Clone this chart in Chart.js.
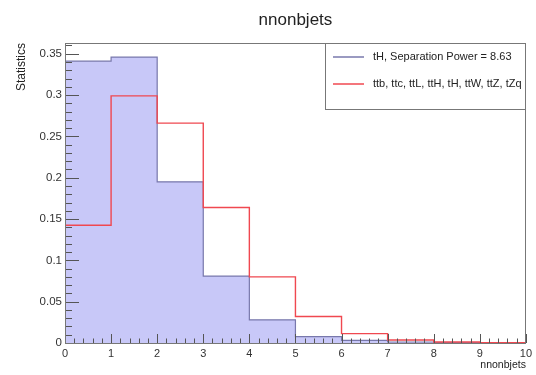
<!DOCTYPE html>
<html>
<head>
<meta charset="utf-8">
<script src="https://cdn.jsdelivr.net/npm/chart.js@4.4.1/dist/chart.umd.min.js"></script>
<style>
  html, body { margin: 0; padding: 0; background: #fff; }
  #wrap { width: 536px; height: 375px; }
</style>
</head>
<body>
<div id="wrap"><canvas id="histo" width="536" height="375"></canvas></div>
<script>
/* ─── Data ───────────────────────────────────────────────────── */
const TITLE      = 'nnonbjets';
const X_LABEL    = 'nnonbjets';
const Y_LABEL    = 'Statistics';
const binEdges   = [0, 1, 2, 3, 4, 5, 6, 7, 8, 9, 10];
const signalVals = [0.341, 0.346, 0.195, 0.081, 0.028, 0.0078, 0.0032, 0.0012, 0.0004, 0.0001];
const bkgVals    = [0.1425, 0.299, 0.266, 0.164, 0.080, 0.032, 0.0113, 0.0036, 0.0012, 0.0005];
const signalName = 'tH, Separation Power = 8.63';
const bkgName    = 'ttb, ttc, ttL, ttH, tH, ttW, ttZ, tZq';

const FONT = '"Liberation Sans", Arial, Helvetica, sans-serif';
const BLUE_FILL = '#c8c8f8';
const BLUE_LINE = '#7878ac';
const RED_LINE  = '#f04850';

// histogram outline: one point per bin edge, last edge repeats the last bin
function toSteps(vals) {
  return binEdges.map((x, i) => ({ x, y: vals[Math.min(i, vals.length - 1)] }));
}

/* ─── ROOT-like frame, ticks, legend, titles ─────────────────── */
const rootStyle = {
  id: 'rootStyle',
  afterDatasetsDraw(chart) {
    const { ctx, chartArea: a, scales: { x, y } } = chart;
    ctx.save();
    ctx.strokeStyle = '#555';
    ctx.lineWidth = 1;

    // y ticks (major every 0.05, minor every 0.01)
    for (let i = 0; i <= 36; i++) {
      const py = Math.round(y.getPixelForValue(i / 100)) + 0.5;
      if (py < a.top) break;
      const len = i % 5 === 0 ? 14 : 7;
      ctx.beginPath();
      ctx.moveTo(a.left, py);
      ctx.lineTo(a.left + len, py);
      ctx.stroke();
    }
    // x ticks (major every 1, minor every 0.2)
    for (let i = 0; i <= 50; i++) {
      const px = Math.round(x.getPixelForValue(i / 5)) + 0.5;
      const len = i % 5 === 0 ? 9 : 4.5;
      ctx.beginPath();
      ctx.moveTo(px, a.bottom);
      ctx.lineTo(px, a.bottom - len);
      ctx.stroke();
    }

    // frame
    ctx.strokeStyle = '#777';
    ctx.strokeRect(Math.round(a.left) + 0.5, Math.round(a.top) + 0.5,
                   Math.round(a.right - a.left) - 1, Math.round(a.bottom - a.top));

    // legend box
    const lx = 325, ly = 43, lw = Math.round(a.right) - lx, lh = 66;
    ctx.fillStyle = '#fff';
    ctx.fillRect(lx, ly, lw, lh);
    ctx.strokeStyle = '#777';
    ctx.strokeRect(lx + 0.5, ly + 0.5, lw - 1, lh);

    ctx.font = '11px ' + FONT;
    ctx.textBaseline = 'middle';
    ctx.textAlign = 'left';
    chart.data.datasets.forEach((ds, i) => {
      const cy = [57, 84][i];
      ctx.strokeStyle = ds.borderColor;
      ctx.lineWidth = 1.5;
      ctx.beginPath();
      ctx.moveTo(333, cy);
      ctx.lineTo(364, cy);
      ctx.stroke();
      ctx.fillStyle = '#222';
      ctx.fillText(ds.label, 373, cy);
    });

    // titles
    ctx.fillStyle = '#222';
    ctx.font = '17px ' + FONT;
    ctx.textAlign = 'center';
    ctx.fillText(TITLE, (a.left + a.right) / 2, 20);

    ctx.font = '10.5px ' + FONT;
    ctx.textAlign = 'right';
    ctx.fillText(X_LABEL, a.right, 365);

    ctx.save();
    ctx.translate(22, 43);
    ctx.rotate(-Math.PI / 2);
    ctx.font = '12px ' + FONT;
    ctx.textAlign = 'right';
    ctx.fillText(Y_LABEL, 0, 0);
    ctx.restore();

    ctx.restore();
  }
};

/* ─── Chart ──────────────────────────────────────────────────── */
new Chart(document.getElementById('histo'), {
  type: 'line',
  data: {
    datasets: [
      {
        label: signalName,
        data: toSteps(signalVals),
        stepped: 'before',
        borderColor: BLUE_LINE,
        backgroundColor: BLUE_FILL,
        borderWidth: 1.2,
        fill: 'origin',
        pointRadius: 0,
        order: 2,   // drawn underneath the red outline
      },
      {
        label: bkgName,
        data: toSteps(bkgVals),
        stepped: 'before',
        borderColor: RED_LINE,
        borderWidth: 1.4,
        fill: false,
        pointRadius: 0,
        order: 1,
      },
    ],
  },
  options: {
    responsive: false,
    animation: false,
    layout: { padding: { left: 0, top: 43, right: 8, bottom: 0 } },
    plugins: {
      legend: { display: false },
      tooltip: { enabled: false },
    },
    scales: {
      x: {
        type: 'linear',
        min: 0,
        max: 10,
        grid: { display: false, drawTicks: false },
        border: { display: false },
        ticks: {
          stepSize: 1,
          padding: 4,
          color: '#333',
          font: { family: FONT, size: 11 },
          maxRotation: 0,
        },
        afterFit: s => { s.height = 32; },
      },
      y: {
        min: 0,
        max: 0.363,
        grid: { display: false, drawTicks: false },
        border: { display: false },
        ticks: {
          stepSize: 0.05,
          includeBounds: false,
          padding: 3,
          color: '#333',
          font: { family: FONT, size: 11.5 },
          callback: v => String(+v.toFixed(2)),
        },
        afterFit: s => { s.width = 65; },
      },
    },
  },
  plugins: [rootStyle],
});
</script>
</body>
</html>
